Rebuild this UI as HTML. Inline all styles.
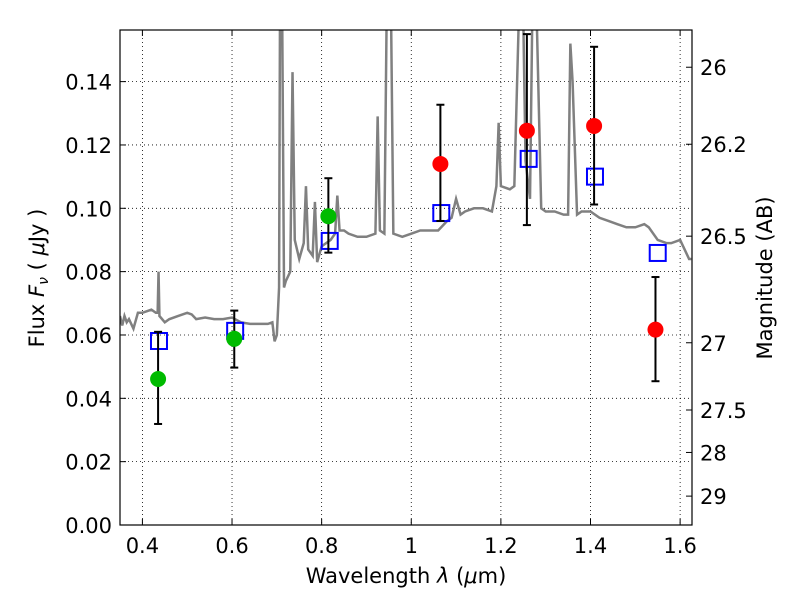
<!DOCTYPE html>
<html><head><meta charset="utf-8"><style>
body{margin:0;background:#fff;}
svg text{font-family:"DejaVu Sans","Liberation Sans",sans-serif;font-size:21px;fill:#000;}
</style></head><body>
<svg id="chart" width="800" height="600" xmlns="http://www.w3.org/2000/svg">
<rect width="800" height="600" fill="#fff"/>
<g id="grid"></g>
<g id="spec"></g>
<g id="marks"></g>
<rect x="120" y="30" width="572" height="495" fill="none" stroke="#000" stroke-width="1.2"/>
<g id="ticks"></g>
<text x="406" y="583" text-anchor="middle">Wavelength  <tspan font-style="italic">λ</tspan> (<tspan font-style="italic">μ</tspan>m)</text>
<text transform="translate(44,278) rotate(-90)" text-anchor="middle">Flux  <tspan font-style="italic">F</tspan><tspan font-style="italic" font-size="14" dy="4">ν</tspan><tspan dy="-4">  (  </tspan><tspan font-style="italic">μ</tspan>Jy )</text>
<text transform="translate(772,278) rotate(-90)" text-anchor="middle">Magnitude (AB)</text>
</svg>
<script>
const specWave=[0.35,0.355,0.36,0.365,0.37,0.38,0.39,0.40,0.42,0.43,0.434,0.436,0.438,0.45,0.46,0.48,0.50,0.51,0.52,0.54,0.56,0.58,0.60,0.62,0.64,0.66,0.68,0.69,0.695,0.70,0.705,0.707,0.712,0.716,0.72,0.73,0.735,0.74,0.75,0.76,0.765,0.77,0.78,0.785,0.79,0.80,0.81,0.82,0.83,0.835,0.84,0.85,0.86,0.88,0.90,0.92,0.925,0.93,0.94,0.945,0.955,0.96,0.98,1.0,1.02,1.04,1.06,1.08,1.09,1.10,1.11,1.12,1.14,1.16,1.18,1.19,1.195,1.20,1.22,1.23,1.24,1.25,1.255,1.265,1.27,1.28,1.29,1.30,1.32,1.34,1.35,1.355,1.36,1.37,1.38,1.40,1.42,1.44,1.46,1.48,1.50,1.52,1.53,1.55,1.57,1.58,1.60,1.62,1.625];
const specFlux=[0.066,0.063,0.066,0.064,0.065,0.062,0.067,0.067,0.068,0.067,0.067,0.080,0.066,0.064,0.065,0.066,0.067,0.0665,0.065,0.0655,0.065,0.065,0.0655,0.064,0.0635,0.0635,0.0635,0.064,0.058,0.060,0.075,0.16,0.16,0.075,0.077,0.080,0.143,0.090,0.084,0.089,0.107,0.087,0.085,0.102,0.083,0.088,0.089,0.090,0.092,0.104,0.093,0.093,0.092,0.091,0.091,0.092,0.129,0.093,0.092,0.16,0.16,0.092,0.091,0.092,0.093,0.093,0.093,0.096,0.097,0.103,0.098,0.099,0.100,0.100,0.099,0.107,0.127,0.107,0.106,0.107,0.16,0.16,0.115,0.103,0.16,0.16,0.100,0.099,0.099,0.098,0.098,0.152,0.140,0.098,0.099,0.099,0.097,0.096,0.095,0.094,0.094,0.095,0.094,0.090,0.089,0.089,0.090,0.084,0.084];
const greenWave=[0.435,0.605,0.815];
const greenFlux=[0.0461,0.0588,0.0975];
const greenLo=[0.0319,0.0497,0.0860];
const greenHi=[0.0610,0.0677,0.1095];
const redWave=[1.065,1.258,1.408,1.545];
const redFlux=[0.114,0.1245,0.126,0.0617];
const redLo=[0.096,0.0947,0.1012,0.0454];
const redHi=[0.1327,0.155,0.151,0.0783];
const modelWave=[0.437,0.607,0.818,1.067,1.262,1.41,1.55];
const modelFlux=[0.0581,0.0613,0.0897,0.0985,0.1156,0.110,0.0859];
const xTicks=[0.4,0.6,0.8,1,1.2,1.4,1.6];
const xTickLabels=["0.4","0.6","0.8","1","1.2","1.4","1.6"];
const yTicks=[0,0.02,0.04,0.06,0.08,0.10,0.12,0.14];
const yTickLabels=["0.00","0.02","0.04","0.06","0.08","0.10","0.12","0.14"];
const magTicks=[26,26.2,26.5,27,27.5,28,29];
const magTickLabels=["26","26.2","26.5","27","27.5","28","29"];

const X0=120,X1=692,Y0=525,Y1=30,xmin=0.35,xmax=1.6265,ymin=0,ymax=0.1563;
const sx=v=>X0+(v-xmin)/(xmax-xmin)*(X1-X0);
const sy=v=>Y0-(v-ymin)/(ymax-ymin)*(Y0-Y1);
const NS="http://www.w3.org/2000/svg";
function mk(tag,attrs,parent){const e=document.createElementNS(NS,tag);for(const k in attrs)e.setAttribute(k,attrs[k]);parent.appendChild(e);return e;}
const grid=document.getElementById('grid'),ticks=document.getElementById('ticks'),spec=document.getElementById('spec'),marks=document.getElementById('marks');
xTicks.forEach((t,i)=>{const x=sx(t);
 const g=mk('line',{x1:x,x2:x,y1:Y1,y2:Y0,stroke:'#000','stroke-width':0.8,'stroke-dasharray':'1,3'},grid);
 
 
 mk('line',{x1:x,x2:x,y1:Y0,y2:Y0-6,stroke:'#000'},ticks);
 mk('line',{x1:x,x2:x,y1:Y1,y2:Y1+6,stroke:'#000'},ticks);
 const t1=mk('text',{x:x,y:Y0+28,'text-anchor':'middle'},ticks);t1.textContent=xTickLabels[i];
 
 });
yTicks.forEach((t,i)=>{const y=sy(t);
 if(t>0){const g=mk('line',{x1:X0,x2:X1,y1:y,y2:y,stroke:'#000','stroke-width':0.8,'stroke-dasharray':'1,3'},grid);
 
 }
 mk('line',{x1:X0,x2:X0+6,y1:y,y2:y,stroke:'#000'},ticks);
 const t1=mk('text',{x:X0-8,y:y+8,'text-anchor':'end'},ticks);t1.textContent=yTickLabels[i];
 
 });
magTicks.forEach((m,i)=>{const y=sy(Math.pow(10,(23.9-m)/2.5));
 mk('line',{x1:X1,x2:X1-6,y1:y,y2:y,stroke:'#000'},ticks);
 const t1=mk('text',{x:X1+8,y:y+8,'text-anchor':'start'},ticks);t1.textContent=magTickLabels[i];
 
 });
const cp=mk('clipPath',{id:'clip'},document.getElementById('chart'));mk('rect',{x:X0,y:Y1,width:X1-X0,height:Y0-Y1},cp);
const pl=mk('polyline',{points:specWave.map((w,i)=>sx(w)+','+sy(specFlux[i])).join(' '),fill:'none',stroke:'#808080','stroke-width':2.5,'clip-path':'url(#clip)'},spec);


modelWave.forEach((w,i)=>{const r=mk('rect',{x:sx(w)-8,y:sy(modelFlux[i])-8,width:16,height:16,fill:'none',stroke:'#0000ff','stroke-width':2},marks);
 
 });
function pts(wv,fl,lo,hi,col,name){wv.forEach((w,i)=>{const x=sx(w);
 const g=mk('g',{},marks);
 
 
 mk('line',{x1:x,x2:x,y1:sy(lo[i]),y2:sy(hi[i]),stroke:'#000','stroke-width':2},g);
 mk('line',{x1:x-4,x2:x+4,y1:sy(lo[i]),y2:sy(lo[i]),stroke:'#000','stroke-width':2},g);
 mk('line',{x1:x-4,x2:x+4,y1:sy(hi[i]),y2:sy(hi[i]),stroke:'#000','stroke-width':2},g);
 mk('circle',{cx:x,cy:sy(fl[i]),r:8,fill:col},g);});}
pts(greenWave,greenFlux,greenLo,greenHi,'#00bb00','observed-point-green');
pts(redWave,redFlux,redLo,redHi,'#ff0000','observed-point-red');
</script>
</body></html>
